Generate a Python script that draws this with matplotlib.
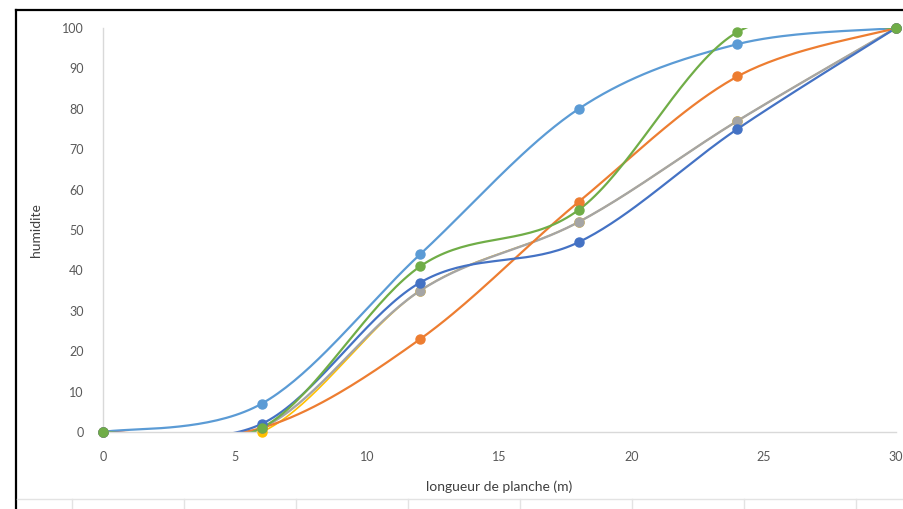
import numpy as np
import matplotlib
matplotlib.use("Agg")
import matplotlib.pyplot as plt
from matplotlib.lines import Line2D

plt.rcParams['font.family'] = ['Lato', 'DejaVu Sans']

# ---- data ----
x_vals = [0, 6, 12, 18, 24, 30]
s_lightblue = [0, 7, 44, 80, 96, 100]
s_orange = [0, 1, 23, 57, 88, 100]
s_yellow = [0, 0, 35, 52, 77, 100]
s_gray = [0, 1, 35, 52, 77, 100]
s_darkblue = [0, 2, 37, 47, 75, 100]
s_green = [0, 1, 41, 55, 99, 100]
x_ticks = [0, 5, 10, 15, 20, 25, 30]
y_ticks = [0, 10, 20, 30, 40, 50, 60, 70, 80, 90, 100]
x_label = "longueur de planche (m)"
y_label = "humidite"

series = [
    (s_yellow, "#FFC000", 1.2),
    (s_gray, "#A5A5A5", 1.7),
    (s_lightblue, "#5B9BD5", 1.6),
    (s_orange, "#ED7D31", 1.6),
    (s_darkblue, "#4472C4", 1.6),
    (s_green, "#70AD47", 1.6),
]


def excel_smooth(xs, ys, n=40):
    xs = np.asarray(xs, float)
    ys = np.asarray(ys, float)
    pts = np.column_stack([xs, ys])
    out = []
    m = len(pts)
    for i in range(m - 1):
        p0 = pts[i - 1] if i > 0 else pts[i]
        p1 = pts[i]
        p2 = pts[i + 1]
        p3 = pts[i + 2] if i + 2 < m else pts[i + 1]
        c1 = p1 + (p2 - p0) / 6.0
        c2 = p2 - (p3 - p1) / 6.0
        t = np.linspace(0, 1, n)[:, None]
        b = ((1 - t) ** 3) * p1 + 3 * ((1 - t) ** 2) * t * c1 + 3 * (1 - t) * t ** 2 * c2 + t ** 3 * p2
        out.append(b if i == 0 else b[1:])
    out = np.vstack(out)
    return out[:, 0], out[:, 1]


fig = plt.figure(figsize=(9.04, 5.09), dpi=100)
fig.patch.set_facecolor("white")

W, H = 904, 509
# spreadsheet frame decorations
fig.add_artist(Line2D([16 / W, 16 / W], [0, 1 - 10 / H], color="black", lw=1.6, transform=fig.transFigure))
fig.add_artist(Line2D([16 / W, 1], [1 - 10 / H, 1 - 10 / H], color="black", lw=1.6, transform=fig.transFigure))
fig.add_artist(Line2D([17 / W, 1], [1 - 499 / H, 1 - 499 / H], color="#E3E3E3", lw=1.0, transform=fig.transFigure))
for px in [72, 184, 296, 408, 520, 632, 744, 856]:
    fig.add_artist(Line2D([px / W, px / W], [0, 1 - 499 / H], color="#E3E3E3", lw=1.0, transform=fig.transFigure))

ax = fig.add_axes([103 / W, 1 - 432 / H, (896 - 103) / W, (432 - 28) / H])
ax.set_xlim(0, 30)
ax.set_ylim(0, 100)

for ys, col, lw in series:
    sx, sy = excel_smooth(x_vals, ys)
    ax.plot(sx, sy, color=col, lw=lw, solid_capstyle="round", zorder=2)
    ax.plot(x_vals, ys, linestyle="none", marker="o", markersize=6.5, color=col,
            markeredgecolor=col, clip_on=False, zorder=3)

for s in ["top", "right"]:
    ax.spines[s].set_visible(False)
ax.spines["left"].set_color("#D9D9D9")
ax.spines["bottom"].set_color("#D9D9D9")
ax.spines["left"].set_linewidth(1.0)
ax.spines["bottom"].set_linewidth(1.0)

ax.set_xticks(x_ticks)
ax.set_yticks(y_ticks)
ax.tick_params(axis="both", length=0, labelsize=9, labelcolor="#595959")
ax.tick_params(axis="y", pad=14)
ax.tick_params(axis="x", pad=14)

ax.set_xlabel(x_label, fontsize=10, color="#404040", labelpad=12)
ax.set_ylabel(y_label, fontsize=10, color="#404040", labelpad=14)

fig.savefig("out.png", dpi=100, facecolor="white")
